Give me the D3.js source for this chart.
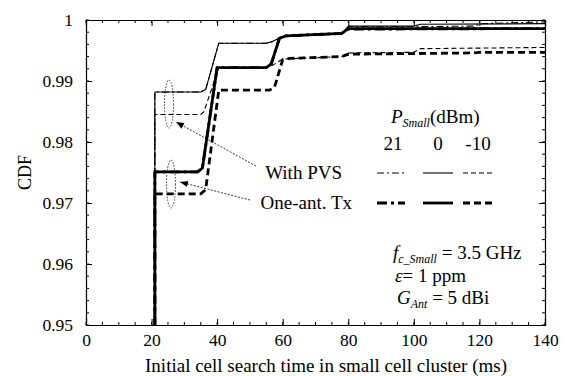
<!DOCTYPE html>
<html>
<head>
<meta charset="utf-8">
<script src="https://cdn.jsdelivr.net/npm/d3@7"></script>
<style>
  body { margin: 0; background: #fff; }
</style>
</head>
<body>
<svg id="chart" width="571" height="376"></svg>
<script>
// x = initial cell search time (ms), y = CDF
const xTicks = [0, 20, 40, 60, 80, 100, 120, 140];
const yTicks = [0.95, 0.96, 0.97, 0.98, 0.99, 1];
const yTickLabels = ["0.95", "0.96", "0.97", "0.98", "0.99", "1"];

// With PVS (thin lines)
const pvs21 = [[21, 0.95], [21, 0.9882], [35, 0.9882], [36.5, 0.9886], [40.5, 0.9962], [55, 0.9962], [57, 0.9965], [60, 0.9973], [78, 0.9977], [80, 0.9989], [100, 0.9989], [118, 0.9990], [121, 0.9994], [140, 0.9997]];
const pvs0 = [[21, 0.95], [21, 0.9882], [35, 0.9882], [36.5, 0.9886], [40.5, 0.9962], [55, 0.9962], [57, 0.9965], [60, 0.9973], [78, 0.9977], [80, 0.9990], [100, 0.9990], [102, 0.9993], [140, 0.9994]];
const pvsM10 = [[21, 0.95], [21, 0.9845], [35, 0.9845], [36, 0.9850], [40.5, 0.9922], [55, 0.9922], [57, 0.9926], [60, 0.9936], [78, 0.9940], [80, 0.9946], [100, 0.9947], [102, 0.9953], [140, 0.9955]];

// One-antenna Tx (thick lines)
const one21 = [[21, 0.95], [21, 0.9751], [34, 0.9751], [35.5, 0.9757], [40, 0.9922], [55, 0.9922], [56.5, 0.9928], [59, 0.9970], [61, 0.9974], [78, 0.9978], [80, 0.9985], [140, 0.9986]];
const one0 = [[21, 0.95], [21, 0.9751], [34, 0.9751], [35.5, 0.9757], [40, 0.9922], [55, 0.9922], [56.5, 0.9928], [59, 0.9970], [61, 0.9974], [78, 0.9978], [80, 0.9986], [140, 0.9986]];
const oneM10 = [[21, 0.95], [21, 0.9715], [35, 0.9715], [36.5, 0.9722], [40.5, 0.9885], [56, 0.9885], [57.5, 0.9890], [60, 0.9935], [62, 0.9937], [78, 0.9940], [80, 0.9944], [100, 0.9945], [118, 0.9946], [120, 0.9947], [140, 0.9947]];

const series = [
  { data: pvs21, width: 1.1, dash: "7,3,2,3" },
  { data: pvs0, width: 1.1, dash: null },
  { data: pvsM10, width: 1.1, dash: "5,3" },
  { data: one21, width: 2.8, dash: "10,4,3,4" },
  { data: one0, width: 2.8, dash: null },
  { data: oneM10, width: 2.8, dash: "7,4" }
];

const FONT = "'Liberation Serif', 'Times New Roman', Times, serif";

const svg = d3.select("#chart").attr("font-family", FONT);
const padL = 86, padR = 545, padT = 20, padB = 325;

const x = d3.scaleLinear().domain([0, 140]).range([padL, padR]);
const y = d3.scaleLinear().domain([0.95, 1]).range([padB, padT]);

svg.append("defs")
  .append("marker")
  .attr("id", "arrow")
  .attr("viewBox", "0 -5 10 10")
  .attr("refX", 10)
  .attr("refY", 0)
  .attr("orient", "auto")
  .attr("markerWidth", 8)
  .attr("markerHeight", 8)
  .attr("markerUnits", "userSpaceOnUse")
  .append("path")
  .attr("d", "M 0,-4 L 10,0 L 0,4 Z")
  .attr("fill", "#000");

// curves
const line = d3.line()
  .x((d) => x(d[0]))
  .y((d) => y(d[1]));

svg.append("g")
  .selectAll("path")
  .data(series)
  .enter()
  .append("path")
  .attr("d", (d) => line(d.data))
  .attr("fill", "none")
  .attr("stroke", "#000")
  .attr("stroke-width", (d) => d.width)
  .attr("stroke-dasharray", (d) => d.dash)
  .attr("stroke-linejoin", "round");

// frame with inward ticks
const minorX = d3.range(0, 141, 5);
const minorY = d3.range(0, 26).map((i) => 0.95 + i * 0.002);

const axBottom = d3.axisBottom(x).tickValues(xTicks).tickSize(-6).tickPadding(9);
const axTop = d3.axisTop(x).tickValues(xTicks).tickSize(-6).tickFormat("");
const axLeft = d3.axisLeft(y).tickValues(yTicks).tickSize(-6).tickPadding(13)
  .tickFormat((d, i) => yTickLabels[i]);
const axRight = d3.axisRight(y).tickValues(yTicks).tickSize(-6).tickFormat("");

const gB = svg.append("g").attr("transform", `translate(0,${padB})`).call(axBottom);
const gT = svg.append("g").attr("transform", `translate(0,${padT})`).call(axTop);
const gL = svg.append("g").attr("transform", `translate(${padL},0)`).call(axLeft);
const gR = svg.append("g").attr("transform", `translate(${padR},0)`).call(axRight);

[gB, gT, gL, gR].forEach((g) => {
  g.attr("font-family", FONT).attr("font-size", 17.5);
  g.select(".domain").attr("stroke", "#000").attr("stroke-width", 1.2);
  g.selectAll(".tick line").attr("stroke", "#000").attr("stroke-width", 1);
  g.selectAll(".tick text").attr("fill", "#000");
});

const minor = svg.append("g").attr("stroke", "#000").attr("stroke-width", 1);
minorX.forEach((v) => {
  minor.append("line").attr("x1", x(v)).attr("x2", x(v)).attr("y1", padB).attr("y2", padB - 3);
  minor.append("line").attr("x1", x(v)).attr("x2", x(v)).attr("y1", padT).attr("y2", padT + 3);
});
minorY.forEach((v) => {
  minor.append("line").attr("x1", padL).attr("x2", padL + 3).attr("y1", y(v)).attr("y2", y(v));
  minor.append("line").attr("x1", padR).attr("x2", padR - 3).attr("y1", y(v)).attr("y2", y(v));
});

// axis titles
svg.append("text")
  .attr("x", 326)
  .attr("y", 372)
  .attr("text-anchor", "middle")
  .attr("font-size", 19)
  .text("Initial cell search time in small cell cluster (ms)");

svg.append("text")
  .attr("transform", `translate(31,${(padT + padB) / 2}) rotate(-90)`)
  .attr("text-anchor", "middle")
  .attr("font-size", 18)
  .text("CDF");

// ellipses and arrows
const ann = svg.append("g");
ann.append("ellipse").attr("cx", 169).attr("cy", 104).attr("rx", 4.5).attr("ry", 24)
  .attr("fill", "none").attr("stroke", "#000").attr("stroke-width", 0.8).attr("stroke-dasharray", "1.5,1.5");
ann.append("ellipse").attr("cx", 171).attr("cy", 184).attr("rx", 4.5).attr("ry", 24)
  .attr("fill", "none").attr("stroke", "#000").attr("stroke-width", 0.8).attr("stroke-dasharray", "1.5,1.5");
ann.append("line").attr("x1", 256).attr("y1", 166).attr("x2", 176).attr("y2", 122)
  .attr("stroke", "#000").attr("stroke-width", 0.8).attr("stroke-dasharray", "2,1.5")
  .attr("marker-end", "url(#arrow)");
ann.append("line").attr("x1", 250).attr("y1", 200).attr("x2", 180).attr("y2", 182)
  .attr("stroke", "#000").attr("stroke-width", 0.8).attr("stroke-dasharray", "2,1.5")
  .attr("marker-end", "url(#arrow)");

// legend
const leg = svg.append("g").attr("font-size", 19);
const pLabel = leg.append("text").attr("x", 391).attr("y", 123);
pLabel.append("tspan").attr("font-style", "italic").text("P");
pLabel.append("tspan").attr("font-style", "italic").attr("font-size", 12).attr("dy", 4).text("Small");
pLabel.append("tspan").attr("dy", -4).text("(dBm)");

leg.append("text").attr("x", 393).attr("y", 150).attr("text-anchor", "middle").text("21");
leg.append("text").attr("x", 438).attr("y", 150).attr("text-anchor", "middle").text("0");
leg.append("text").attr("x", 478).attr("y", 150).attr("text-anchor", "middle").text("-10");

leg.append("text").attr("x", 342).attr("y", 179).attr("text-anchor", "end").text("With PVS");
leg.append("text").attr("x", 352).attr("y", 209).attr("text-anchor", "end").text("One-ant. Tx");

const legX = [[377, 405], [423, 453], [463, 493]];
[0, 1, 2].forEach((i) => {
  leg.append("line").attr("x1", legX[i][0]).attr("x2", legX[i][1]).attr("y1", 173).attr("y2", 173)
    .attr("stroke", "#000").attr("stroke-width", series[i].width).attr("stroke-dasharray", series[i].dash);
  leg.append("line").attr("x1", legX[i][0]).attr("x2", legX[i][1]).attr("y1", 203).attr("y2", 203)
    .attr("stroke", "#000").attr("stroke-width", series[i + 3].width).attr("stroke-dasharray", series[i + 3].dash);
});

// parameters
const par = svg.append("g").attr("font-size", 19);
const t1 = par.append("text").attr("x", 393).attr("y", 259);
t1.append("tspan").attr("font-style", "italic").text("f");
t1.append("tspan").attr("font-style", "italic").attr("font-size", 12).attr("dy", 4).text("c_Small");
t1.append("tspan").attr("dy", -4).text(" = 3.5 GHz");

const t2 = par.append("text").attr("x", 395).attr("y", 282);
t2.append("tspan").attr("font-style", "italic").text("ε");
t2.append("tspan").text("= 1 ppm");

const t3 = par.append("text").attr("x", 397).attr("y", 304);
t3.append("tspan").attr("font-style", "italic").text("G");
t3.append("tspan").attr("font-style", "italic").attr("font-size", 12).attr("dy", 4).text("Ant");
t3.append("tspan").attr("dy", -4).text(" = 5 dBi");
</script>
</body>
</html>
